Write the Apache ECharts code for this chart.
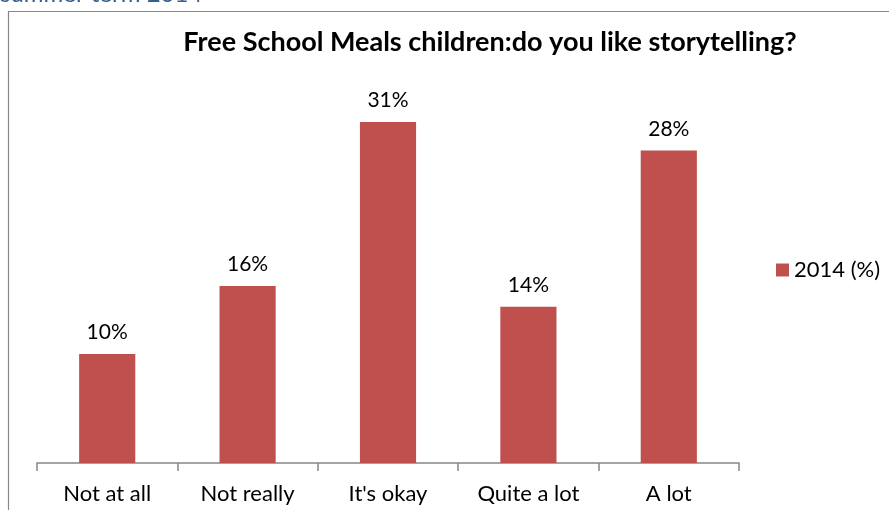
<!DOCTYPE html>
<html lang="en">
<head>
  <meta charset="UTF-8">
  <title>Free School Meals children</title>
  <script src="https://cdn.jsdelivr.net/npm/echarts@6/dist/echarts.min.js"></script>
  <style>
    html, body { margin: 0; padding: 0; background: #fff; }
    #chart { width: 889px; height: 510px; }
  </style>
</head>
<body>
  <div id="chart"></div>
  <script>
    // data
    const categories = ['Not at all', 'Not really', "It's okay", 'Quite a lot', 'A lot'];
    const values2014 = [9.9, 16.1, 31.0, 14.2, 28.4];
    const seriesName = '2014 (%)';

    const font = 'Lato, "Liberation Sans", sans-serif';
    const chart = echarts.init(document.getElementById('chart'), null, { renderer: 'canvas' });

    const option = {
      backgroundColor: '#fff',
      animation: false,
      title: {
        text: 'Free School Meals children:do you like storytelling?',
        left: 485,
        textAlign: 'center',
        top: 24,
        textStyle: { fontFamily: font, fontSize: 27, fontWeight: 'bold', color: '#000' }
      },
      legend: {
        left: 771,
        top: 254,
        itemWidth: 13,
        itemHeight: 13,
        itemGap: 7,
        textStyle: { fontFamily: font, fontSize: 22, color: '#000' },
        data: [{ name: seriesName, icon: 'rect' }]
      },
      grid: { left: 37, right: 150, top: 78, bottom: 47, containLabel: false },
      xAxis: {
        type: 'category',
        data: categories,
        axisLine: { lineStyle: { color: '#868686', width: 1.5 } },
        axisTick: { show: true, length: 8, lineStyle: { color: '#868686', width: 1.5 } },
        axisLabel: { fontFamily: font, fontSize: 22, color: '#000', margin: 20 }
      },
      yAxis: {
        type: 'value',
        min: 0,
        max: 35,
        show: false,
        splitLine: { show: false }
      },
      series: [{
        name: seriesName,
        type: 'bar',
        data: values2014,
        barWidth: '40%',
        itemStyle: { color: '#C0504D' },
        label: {
          show: true,
          position: 'top',
          distance: 11,
          fontFamily: font,
          fontSize: 21,
          color: '#000',
          formatter: p => Math.round(p.value) + '%'
        }
      }],
      graphic: [
        {
          // chart frame, runs off the right and bottom of the crop
          type: 'rect',
          shape: { x: 8.5, y: 11.5, width: 1000, height: 600 },
          style: { fill: null, stroke: '#888', lineWidth: 1.2 },
          z: -1
        },
        {
          type: 'text',
          left: 0,
          top: -18,
          style: { text: 'summer term 2014', font: '24px ' + font, fill: '#365F91' }
        }
      ]
    };

    chart.setOption(option);
  </script>
</body>
</html>
